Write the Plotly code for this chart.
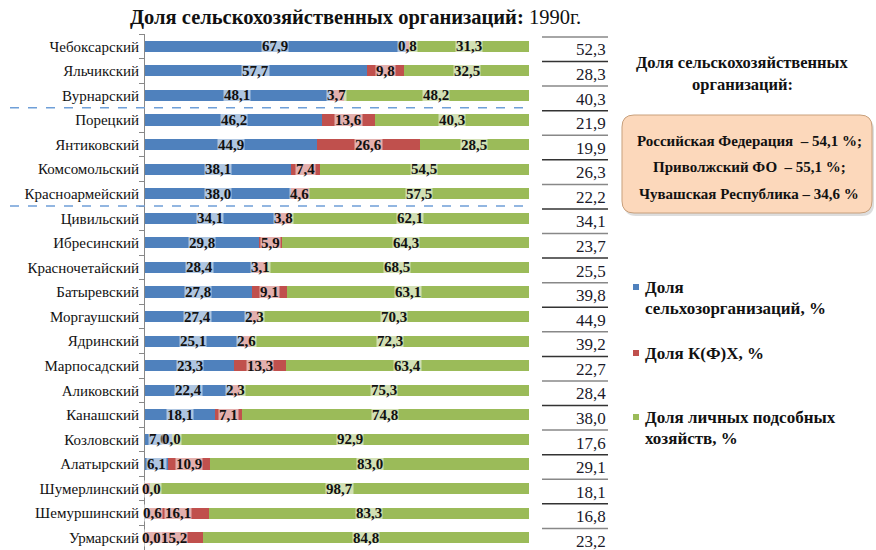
import plotly.graph_objects as go

categories = ["Чебоксарский", "Яльчикский", "Вурнарский", "Порецкий", "Янтиковский",
              "Комсомольский", "Красноармейский", "Цивильский", "Ибресинский",
              "Красночетайский", "Батыревский", "Моргаушский", "Ядринский",
              "Марпосадский", "Аликовский", "Канашский", "Козловский", "Алатырский",
              "Шумерлинский", "Шемуршинский", "Урмарский"]
share_agri_org = [67.9, 57.7, 48.1, 46.2, 44.9, 38.1, 38.0, 34.1, 29.8, 28.4, 27.8,
                  27.4, 25.1, 23.3, 22.4, 18.1, 7.0, 6.1, 0.0, 0.6, 0.0]
share_kfh = [0.8, 9.8, 3.7, 13.6, 26.6, 7.4, 4.6, 3.8, 5.9, 3.1, 9.1,
             2.3, 2.6, 13.3, 2.3, 7.1, 0.0, 10.9, 1.3, 16.1, 15.2]
share_private = [31.3, 32.5, 48.2, 40.3, 28.5, 54.5, 57.5, 62.1, 64.3, 68.5, 63.1,
                 70.3, 72.3, 63.4, 75.3, 74.8, 92.9, 83.0, 98.7, 83.3, 84.8]
table_values = [52.3, 28.3, 40.3, 21.9, 19.9, 26.3, 22.2, 34.1, 23.7, 25.5, 39.8,
                44.9, 39.2, 22.7, 28.4, 38.0, 17.6, 29.1, 18.1, 16.8, 23.2]
hidden_kfh_labels = ["Шумерлинский"]
group_breaks_after = ["Вурнарский", "Красноармейский"]

series_names = ["Доля сельхозорганизаций, %", "Доля К(Ф)Х, %", "Доля личных подсобных хозяйств, %"]
colors = ["#4f81bd", "#c0504d", "#9bbb59"]
series = [share_agri_org, share_kfh, share_private]

W, H = 876, 550
ML, MT = 145, 34
PW, PH = W - ML, H - MT

def px_x(p):
    return (p - ML) / PW

def px_y(p):
    return 1 - (p - MT) / PH

def fmt(v):
    return f"{v:.1f}".replace(".", ",")

FONT = "Liberation Serif"

fig = go.Figure()
for name, vals, col in zip(series_names, series, colors):
    fig.add_trace(go.Bar(y=categories, x=vals, orientation="h", name=name,
                         marker=dict(color=col, line=dict(width=0)),
                         showlegend=False, hoverinfo="x+y"))

annotations = []
# segment labels
for i, cat in enumerate(categories):
    start = 0.0
    for s, vals in enumerate(series):
        v = vals[i]
        show = not (s == 1 and cat in hidden_kfh_labels)
        if show:
            shift = 6 if (s == 0 and v < 1) else 0
            annotations.append(dict(x=start + v / 2, y=cat, xref="x", yref="y",
                                    xanchor="center", yanchor="middle", xshift=shift,
                                    text=f"<b>{fmt(v)}</b>", showarrow=False,
                                    font=dict(family=FONT, size=15, color="#111"),
                                    bgcolor="rgba(255,255,255,0.55)", borderpad=0))
        start += v

shapes = []
# table at right
for i, cat in enumerate(categories):
    annotations.append(dict(x=px_x(608), y=i + 0.15, xref="paper", yref="y",
                            xanchor="right", yanchor="middle", text=fmt(table_values[i]),
                            showarrow=False, font=dict(family=FONT, size=17, color="#1a1a2a")))
for k in range(len(categories) + 1):
    shapes.append(dict(type="line", xref="paper", yref="y", x0=px_x(542), x1=px_x(608),
                       y0=k - 0.5 + 0.12, y1=k - 0.5 + 0.12,
                       line=dict(color="#333" if k % 2 else "#888", width=1.5)))

# dashed group separators
for cat in group_breaks_after:
    idx = categories.index(cat)
    shapes.append(dict(type="line", xref="paper", yref="y", x0=px_x(10), x1=px_x(530),
                       y0=idx + 0.5, y1=idx + 0.5,
                       line=dict(color="#6f9fd8", width=1.5, dash="dash")))

# title
annotations.append(dict(x=px_x(355), y=px_y(18), xref="paper", yref="paper",
                        xanchor="center", yanchor="middle",
                        text="<b>Доля сельскохозяйственных организаций:</b> 1990г.",
                        showarrow=False, font=dict(family=FONT, size=20.5, color="#111")))

# side header
for txt, py in [("Доля сельскохозяйственных", 63), ("организаций:", 85)]:
    annotations.append(dict(x=px_x(742), y=px_y(py), xref="paper", yref="paper",
                            xanchor="center", yanchor="middle",
                            text=f"<b>{txt}</b>", showarrow=False,
                            font=dict(family=FONT, size=16.5, color="#111")))

# rounded box
x0, x1, y0, y1, r = 622, 872, 115, 213, 12
def P(x, y):
    return f"{px_x(x):.5f},{px_y(y):.5f}"
def rrect(dx, dy):
    a, b, c, d = x0 + dx, x1 + dx, y0 + dy, y1 + dy
    return (f"M{P(a + r, c)} L{P(b - r, c)} Q{P(b, c)} {P(b, c + r)} "
            f"L{P(b, d - r)} Q{P(b, d)} {P(b - r, d)} L{P(a + r, d)} "
            f"Q{P(a, d)} {P(a, d - r)} L{P(a, c + r)} Q{P(a, c)} {P(a + r, c)} Z")
shapes.append(dict(type="path", xref="paper", yref="paper", path=rrect(2, 3),
                   fillcolor="rgba(120,120,120,0.25)", line=dict(width=0), layer="below"))
shapes.append(dict(type="path", xref="paper", yref="paper", path=rrect(0, 0),
                   fillcolor="#fcd8bb", line=dict(color="#c8a07c", width=1)))
box_lines = ["Российская Федерация  – 54,1 %;", "Приволжский ФО  – 55,1 %;",
             "Чувашская Республика – 34,6 %"]
for txt, py in zip(box_lines, [141, 167, 194]):
    annotations.append(dict(x=px_x(749), y=px_y(py), xref="paper", yref="paper",
                            xanchor="center", yanchor="middle",
                            text=f"<b>{txt}</b>", showarrow=False,
                            font=dict(family=FONT, size=15, color="#111")))

# manual legend
legend_layout = [
    (["Доля", "сельхозорганизаций, %"], 287),
    (["Доля К(Ф)Х, %"], 353),
    (["Доля личных подсобных", "хозяйств, %"], 417),
]
for (lines, py), col in zip(legend_layout, colors):
    shapes.append(dict(type="rect", xref="paper", yref="paper",
                       x0=px_x(633), x1=px_x(639), y0=px_y(py - 3), y1=px_y(py + 3),
                       fillcolor=col, line=dict(width=0)))
    for j, ln in enumerate(lines):
        annotations.append(dict(x=px_x(643), y=px_y(py + j * 21), xref="paper", yref="paper",
                                xanchor="left", yanchor="middle", text=f"<b>{ln}</b>",
                                showarrow=False, font=dict(family=FONT, size=17, color="#111")))

fig.update_layout(
    width=W, height=H, barmode="stack", bargap=0.55,
    margin=dict(l=ML, r=0, t=MT, b=0),
    plot_bgcolor="white", paper_bgcolor="white",
    xaxis=dict(domain=[0, px_x(529)], range=[0, 100], visible=False, automargin=False),
    yaxis=dict(type="category", categoryorder="array", categoryarray=categories,
               range=[len(categories) - 0.5, -0.5], showline=True, linecolor="#888",
               linewidth=1, ticks="outside", ticklen=5, tickcolor="#888",
               tickson="boundaries", showgrid=False, automargin=False,
               ticklabelstandoff=2,
               tickfont=dict(family=FONT, size=15, color="#111")),
    annotations=annotations, shapes=shapes,
)

fig.write_html("out.html", config={"displayModeBar": False},
               post_script="document.body.style.margin='0px';")
